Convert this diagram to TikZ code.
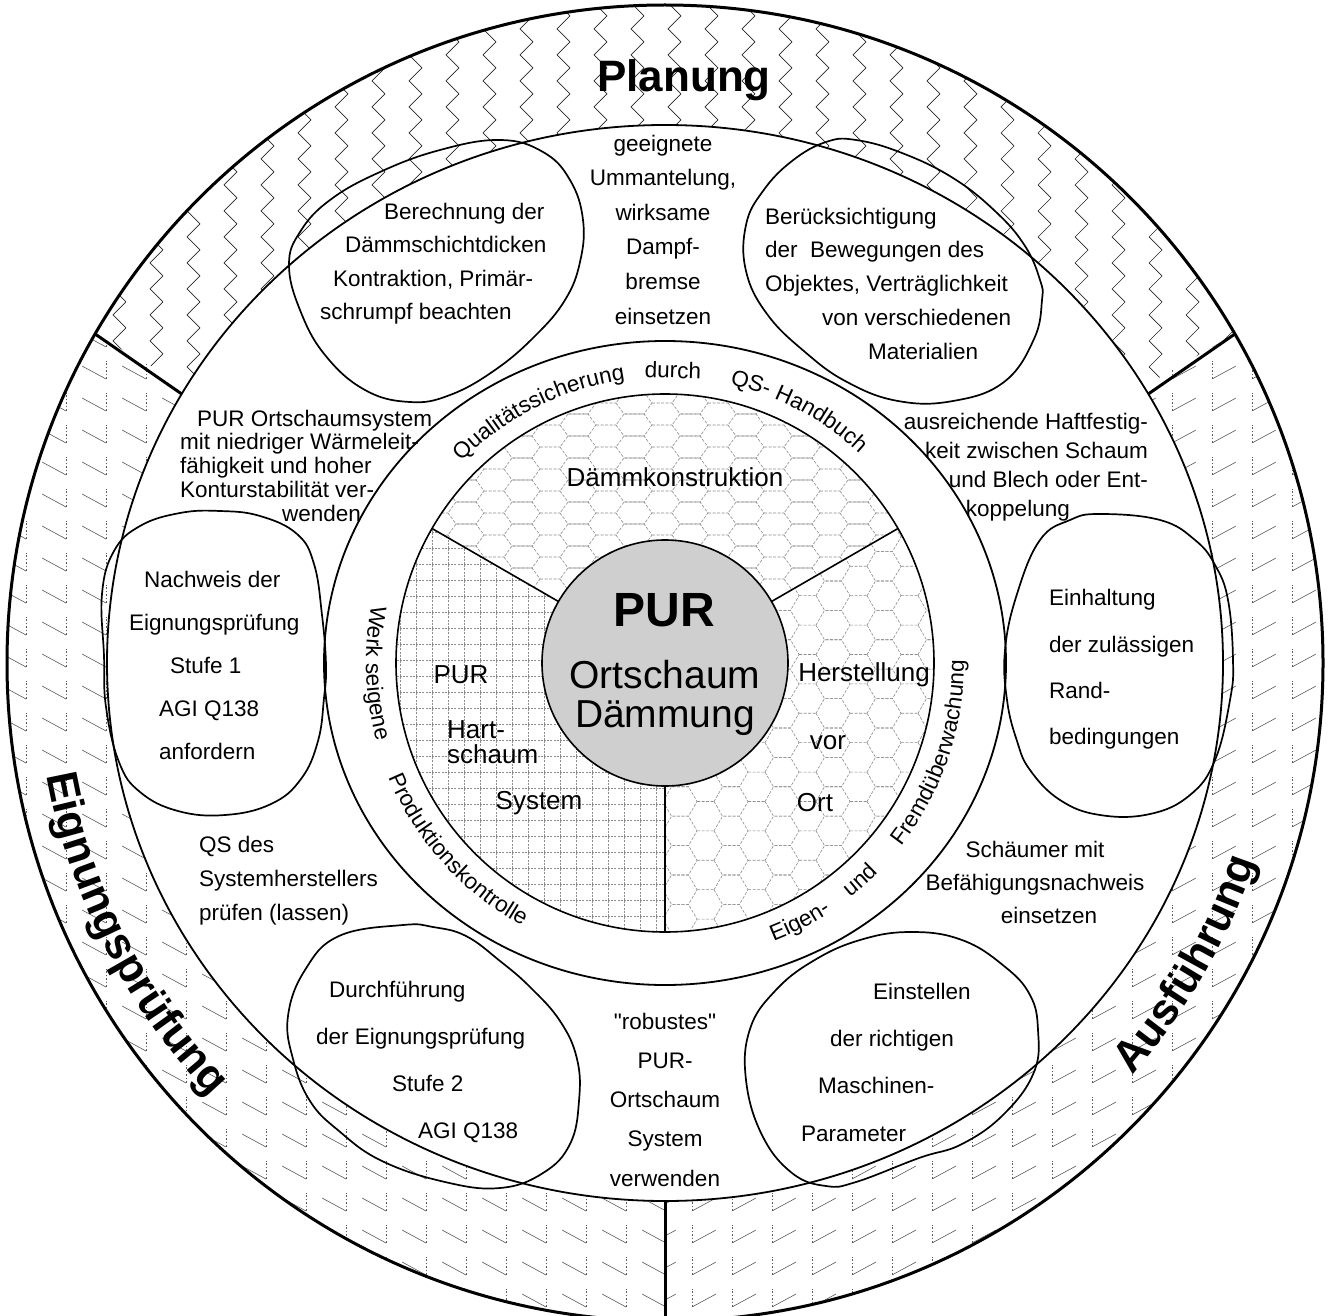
\documentclass[tikz,border=0pt]{standalone}
\usepackage{fontspec}
\setmainfont{Liberation Sans}
\newfontfamily\plainfont{Liberation Sans}
\usepackage{tikz}
\usetikzlibrary{patterns,decorations.text}
\definecolor{hatchgray}{HTML}{8C8C8C}
\definecolor{corefill}{HTML}{CFCFCF}
\newcommand{\fsz}[2]{\fontsize{#1}{#2}\selectfont}
\newcommand{\ringfont}{\fontsize{22.5}{22.5}\selectfont}
\newcommand{\bandfont}{\bfseries\fontsize{44}{44}\selectfont}
\newcommand{\dq}{{\plainfont"}}

\pgfdeclarepatternformonly{zigzagcols}{\pgfqpoint{-1pt}{-1pt}}{\pgfqpoint{38pt}{27pt}}{\pgfqpoint{37pt}{26pt}}{%
  \pgfsetlinewidth{0.7pt}%
  \pgfpathmoveto{\pgfqpoint{15pt}{0pt}}%
  \pgfpathlineto{\pgfqpoint{2pt}{13pt}}%
  \pgfpathlineto{\pgfqpoint{15pt}{26pt}}%
  \pgfusepath{stroke}}
\pgfdeclarepatternformonly{stairleft}{\pgfqpoint{-1pt}{-1pt}}{\pgfqpoint{41pt}{33pt}}{\pgfqpoint{40pt}{32pt}}{%
  \pgfsetlinewidth{0.6pt}%
  \pgfpathmoveto{\pgfqpoint{2pt}{22pt}}\pgfpathlineto{\pgfqpoint{26pt}{9pt}}%
  \pgfusepath{stroke}%
  \pgfsetdash{{1.5pt}{2pt}}{0pt}%
  \pgfpathmoveto{\pgfqpoint{26pt}{9pt}}\pgfpathlineto{\pgfqpoint{26pt}{27pt}}%
  \pgfusepath{stroke}}
\pgfdeclarepatternformonly{stairright}{\pgfqpoint{-1pt}{-1pt}}{\pgfqpoint{41pt}{33pt}}{\pgfqpoint{40pt}{32pt}}{%
  \pgfsetlinewidth{0.6pt}%
  \pgfpathmoveto{\pgfqpoint{12pt}{9pt}}\pgfpathlineto{\pgfqpoint{36pt}{22pt}}%
  \pgfusepath{stroke}%
  \pgfsetdash{{1.5pt}{2pt}}{0pt}%
  \pgfpathmoveto{\pgfqpoint{12pt}{9pt}}\pgfpathlineto{\pgfqpoint{12pt}{27pt}}%
  \pgfusepath{stroke}}
\pgfdeclarepatternformonly{dashgrid}{\pgfqpoint{-1pt}{-1pt}}{\pgfqpoint{17pt}{17pt}}{\pgfqpoint{16pt}{16pt}}{%
  \pgfsetlinewidth{0.6pt}\pgfsetdash{{2pt}{1.2pt}}{0pt}%
  \pgfpathmoveto{\pgfqpoint{0pt}{0pt}}\pgfpathlineto{\pgfqpoint{16pt}{0pt}}%
  \pgfpathmoveto{\pgfqpoint{0pt}{0pt}}\pgfpathlineto{\pgfqpoint{0pt}{16pt}}%
  \pgfusepath{stroke}}
\pgfdeclarepatternformonly{honeycomb}{\pgfqpoint{-1pt}{-1pt}}{\pgfqpoint{52pt}{30.4pt}}{\pgfqpoint{51pt}{29.4pt}}{%
  \pgfsetlinewidth{0.6pt}\pgfsetdash{{3pt}{1.5pt}}{0pt}%
  \pgfpathmoveto{\pgfqpoint{0pt}{14.7pt}}\pgfpathlineto{\pgfqpoint{8.5pt}{0pt}}%
  \pgfpathlineto{\pgfqpoint{25.5pt}{0pt}}\pgfpathlineto{\pgfqpoint{34pt}{14.7pt}}%
  \pgfpathlineto{\pgfqpoint{25.5pt}{29.4pt}}\pgfpathlineto{\pgfqpoint{8.5pt}{29.4pt}}%
  \pgfpathclose
  \pgfpathmoveto{\pgfqpoint{34pt}{14.7pt}}\pgfpathlineto{\pgfqpoint{51pt}{14.7pt}}%
  \pgfusepath{stroke}}
\pgfdeclarepatternformonly{widehex}{\pgfqpoint{-1pt}{-1pt}}{\pgfqpoint{57pt}{23pt}}{\pgfqpoint{56pt}{22pt}}{%
  \pgfsetlinewidth{0.6pt}\pgfsetdash{{3pt}{1.5pt}}{0pt}%
  \pgfpathmoveto{\pgfqpoint{0pt}{11pt}}\pgfpathlineto{\pgfqpoint{8pt}{0pt}}%
  \pgfpathlineto{\pgfqpoint{28pt}{0pt}}\pgfpathlineto{\pgfqpoint{36pt}{11pt}}%
  \pgfpathlineto{\pgfqpoint{28pt}{22pt}}\pgfpathlineto{\pgfqpoint{8pt}{22pt}}%
  \pgfpathclose
  \pgfpathmoveto{\pgfqpoint{36pt}{11pt}}\pgfpathlineto{\pgfqpoint{56pt}{11pt}}%
  \pgfusepath{stroke}}

\begin{document}
\begin{tikzpicture}[x=1pt, y=-1pt,
  txt/.style={inner sep=0pt, align=left, font=\fsz{22.5}{33.5}},
  sect/.style={inner sep=0pt, font=\fsz{26}{26}},
  loopline/.style={line width=1.7pt, line join=round},
  ringtxt/.style={decorate, decoration={text along path, text align=center,
                  text={|\ringfont|#1}}},
  bandtxt/.style={decorate, decoration={text along path, text align=center,
                  text={|\bandfont|#1}}}
]
\useasboundingbox (0,0) rectangle (1330,1316);
\coordinate (c) at (665,663);

\fill[pattern=zigzagcols, pattern color=black!85] (c) -- ([shift={(-30:658)}]c)
  arc[start angle=-30, end angle=-150, radius=658] -- cycle;
\fill[pattern=stairright, pattern color=black!65] (c) -- ([shift={(90:658)}]c)
  arc[start angle=90, end angle=-30, radius=658] -- cycle;
\fill[pattern=stairleft, pattern color=black!65] (c) -- ([shift={(-150:658)}]c)
  arc[start angle=-150, end angle=-270, radius=658] -- cycle;
\fill[white] (c) ellipse[x radius=558, y radius=538];

\fill[pattern=widehex, pattern color=hatchgray] (c) -- ([shift={(-30:269)}]c)
  arc[start angle=-30, end angle=-150, radius=269] -- cycle;
\fill[pattern=dashgrid, pattern color=hatchgray] (c) -- ([shift={(-150:269)}]c)
  arc[start angle=-150, end angle=-270, radius=269] -- cycle;
\fill[pattern=honeycomb, pattern color=hatchgray] (c) -- ([shift={(90:269)}]c)
  arc[start angle=90, end angle=-30, radius=269] -- cycle;
\filldraw[fill=corefill, line width=1.6pt] (c) circle[radius=123];

\draw[line width=3pt] (c) circle[radius=658];
\draw[line width=1.8pt] (c) ellipse[x radius=558, y radius=538];
\draw[line width=1.8pt] (c) ellipse[x radius=341, y radius=322];
\draw[line width=1.6pt] (c) circle[radius=269];
\foreach \a in {-150,-30,90} {
  \draw[line width=3pt] ([shift={(\a:558 and 538)}]c) -- ([shift={(\a:658)}]c);
  \draw[line width=1.6pt] ([shift={(\a:123)}]c) -- ([shift={(\a:269)}]c);
}

\draw[loopline] plot[smooth cycle, tension=0.7] coordinates {(500,140) (543,152)
  (570,180) (583,220) (580,262) (565,300) (535,336) (495,370) (450,395) (410,402)
  (365,390) (325,355) (300,310) (289,265) (300,232) (330,200) (380,172) (440,150)};
\draw[loopline] plot[smooth cycle, tension=0.7] coordinates {(826,142) (856,140)
  (902,153) (953,178) (996,212) (1025,246) (1040,280) (1042,300) (1034,339)
  (1004,382) (953,401) (898,401) (847,382) (805,352) (767,314) (746,271)
  (746,225) (763,191) (792,161)};
\draw[loopline] plot[smooth cycle, tension=0.7] coordinates {(1100,514) (1160,520)
  (1195,540) (1215,565) (1228,600) (1233,660) (1230,700) (1215,760) (1190,795)
  (1150,814) (1100,815) (1060,800) (1030,770) (1017,741) (1007,700) (1005,650)
  (1017,594) (1040,540) (1070,520)};
\draw[loopline] plot[smooth cycle, tension=0.7] coordinates {(911,932) (962,940)
  (1004,966) (1030,995) (1038,1030) (1034,1072) (1004,1114) (962,1144) (919,1158)
  (856,1182) (826,1186) (792,1173) (762,1135) (746,1080) (750,1029) (775,991)
  (813,961) (860,940)};
\draw[loopline] plot[smooth cycle, tension=0.7] coordinates {(403,925) (433,927)
  (466,936) (500,961) (530,987) (560,1021) (577,1059) (579,1101) (570,1144)
  (543,1173) (500,1188) (445,1182) (382,1161) (339,1131) (310,1101) (293,1059)
  (288,1016) (305,970) (339,936)};
\draw[loopline] plot[smooth cycle, tension=0.7] coordinates {(220,511) (260,516)
  (297,534) (314,564) (322,615) (326,665) (324,698) (318,741) (301,779) (271,804)
  (225,815) (178,811) (140,792) (119,762) (106,707) (104,656) (102,594) (114,551)
  (140,526) (180,513)};

\node[inner sep=0pt, font=\bandfont] (planung) at (684,80) {Planung};
\path[bandtxt=Eignungsprüfung] ([shift={(-182:628)}]c)
  arc[start angle=-182, end angle=-232, radius=628];
\path[bandtxt=Ausführung] ([shift={(51:623)}]c)
  arc[start angle=51, end angle=9, radius=623];

\path[ringtxt=Qualitätssicherung] ([shift={(-141.7:286)}]c)
  arc[start angle=-141.7, end angle=-91.7, radius=286];
\node[inner sep=0pt, font=\ringfont, rotate=-1.6] (durch) at (673,370) {durch};
\path[ringtxt=QS- Handbuch] ([shift={(-87:286)}]c)
  arc[start angle=-87, end angle=-37, radius=286];
\path[ringtxt=Werk seigene] ([shift={(-162:299)}]c)
  arc[start angle=-162, end angle=-202, radius=299];
\path[ringtxt=Produktionskontrolle] ([shift={(-197:299)}]c)
  arc[start angle=-197, end angle=-247, radius=299];
\path[ringtxt=Eigen-] ([shift={(75:299)}]c)
  arc[start angle=75, end angle=50, radius=299];
\path[ringtxt=und] ([shift={(58:299)}]c)
  arc[start angle=58, end angle=38, radius=299];
\path[ringtxt=Fremdüberwachung] ([shift={(43.7:299)}]c)
  arc[start angle=43.7, end angle=-6.3, radius=299];

\node[txt, anchor=west] (berechnung) at (320,263.5)
  {\hspace*{64pt}Berechnung der\\\hspace*{25pt}Dämmschichtdicken\\
   \hspace*{13pt}Kontraktion, Primär-\\schrumpf beachten};
\node[txt, anchor=west, font=\fsz{22.5}{33.75}] (beruecksichtigung) at (765,283.5)
  {Berücksichtigung\\der\ \ Bewegungen des\\Objektes, Verträglichkeit\\
   \hspace*{57pt}von verschiedenen\\\hspace*{103pt}Materialien};
\node[txt, anchor=west, font=\fsz{22.5}{46.3}] (einhaltung) at (1049,669.5)
  {Einhaltung\\der zulässigen\\Rand-\\bedingungen};
\node[txt, anchor=west, font=\fsz{22.5}{47.3}] (einstellen) at (801,1062)
  {\hspace*{72pt}Einstellen\\\hspace*{29pt}der richtigen\\
   \hspace*{17pt}Maschinen-\\Parameter};
\node[txt, anchor=west, font=\fsz{22.5}{47.3}] (durchfuehrung) at (316,1062)
  {\hspace*{13pt}Durchführung\\der Eignungsprüfung\\
   \hspace*{76pt}Stufe 2\\\hspace*{102pt}AGI Q138};
\node[txt, anchor=west, font=\fsz{22.5}{43}] (nachweis) at (129,665)
  {\hspace*{15pt}Nachweis der\\Eignungsprüfung\\\hspace*{41pt}Stufe 1\\
   \hspace*{30pt}AGI Q138\\\hspace*{30pt}anfordern};

\node[txt, align=center, font=\fsz{22.5}{34.6}] (ummantelung) at (663,229.5)
  {geeignete\\Ummantelung,\\wirksame\\Dampf-\\bremse\\einsetzen};
\node[txt, anchor=west, font=\fsz{22.5}{23.75}] (ortschaumsys) at (180,465.5)
  {\hspace*{17pt}PUR Ortschaumsystem\\mit niedriger Wärmeleit-\\
   fähigkeit und hoher\\Konturstabilität ver-\\\hspace*{102pt}wenden};
\node[txt, anchor=east, align=right, font=\fsz{22.5}{29}] (haftfestig) at (1148,467.5)
  {ausreichende Haftfestig-\\keit zwischen Schaum\\und Blech oder Ent-\\
   koppelung\hspace*{78pt}\mbox{}};
\node[txt, anchor=west, font=\fsz{22.5}{34}] (qsdes) at (199,881)
  {QS des\\Systemherstellers\\prüfen (lassen)};
\node[txt, align=center, font=\fsz{22.5}{33}] (schaeumer) at (1035,882)
  {Schäumer mit\\Befähigungsnachweis\\\hspace*{28pt}einsetzen};
\node[txt, align=center, font=\fsz{22.5}{39.25}] (robust) at (665,1099.5)
  {\dq robustes\dq\\PUR-\\Ortschaum\\System\\verwenden};

\node[sect] (daemmkon) at (675,477) {Dämmkonstruktion};
\node[sect] (purhs) at (461,675) {PUR};
\node[sect, anchor=west, align=left, font=\fsz{26}{25}] (hartschaum) at (447,742.5)
  {Hart-\\schaum};
\node[sect] (system) at (539,803) {System};
\node[sect] (herstellung) at (864,675) {Herstellung};
\node[sect] (vor) at (828,743) {vor};
\node[sect] (ort) at (815,803) {Ort};

\node[inner sep=0pt, font=\bfseries\fsz{48}{48}] (pur) at (664,610) {PUR};
\node[inner sep=0pt, align=center, font=\fsz{39}{39}] (ortschaum) at (665,697.5)
  {Ortschaum\\Dämmung};
\end{tikzpicture}
\end{document}
